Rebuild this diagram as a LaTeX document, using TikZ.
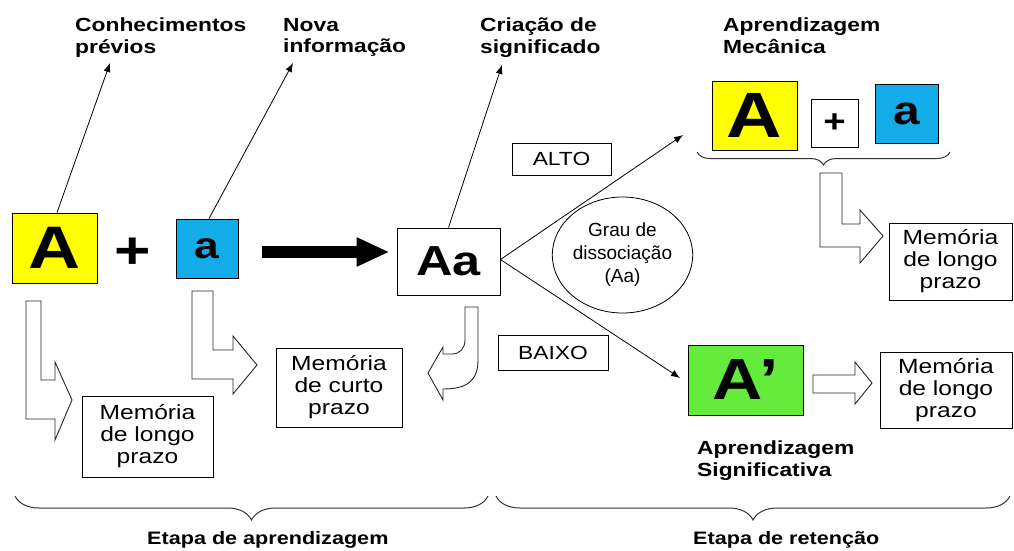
\documentclass[tikz,border=0pt]{standalone}
\usepackage{fontspec}
\setmainfont{Liberation Sans}[FakeStretch=1.2]
\newfontfamily\plainfont{Liberation Sans}
\usetikzlibrary{arrows.meta,decorations.pathreplacing,shapes.geometric}
\definecolor{cyel}{RGB}{255,255,0}
\definecolor{cblue}{RGB}{20,172,232}
\definecolor{cgreen}{RGB}{100,235,60}
\begin{document}
\begin{tikzpicture}[x=1pt,y=-1pt,
  box/.style={draw=black,line width=0.9pt,inner sep=0pt,align=center,
    font=\fontsize{20.5}{22}\selectfont},
  bigl/.style={draw=black,line width=0.9pt,inner sep=0pt},
  lbl/.style={font=\fontsize{19}{21.5}\selectfont\bfseries,align=left,anchor=north west,inner sep=0pt},
  thin/.style={line width=0.8pt,-{Latex[length=9pt,width=7pt]}},
  bigarrow/.style={line width=12pt,-{Triangle[length=33pt,width=27pt]}},
  hollow/.style={draw=black!85,line width=0.9pt,fill=white,line join=miter},
  bracestyle/.style={draw=black!80,line width=1pt,decorate},
]
\useasboundingbox (0,0) rectangle (1014,550);

% left part
\node[bigl,fill=cyel,minimum width=85pt,minimum height=70pt,font=\fontsize{60}{60}\selectfont\bfseries] (A1) at (54.5,248) {A};
\node[inner sep=0pt,font=\fontsize{52}{52}\selectfont\bfseries] (plus1) at (133,253) {+};
\node[bigl,fill=cblue,minimum width=62pt,minimum height=59pt,font=\fontsize{37}{37}\selectfont\bfseries] (a1) at (207,248.5) {a};
\node[bigl,fill=white,minimum width=103pt,minimum height=67pt,font=\fontsize{42}{42}\selectfont\bfseries] (Aa) at (448.5,261.5) {Aa};

\node[box,minimum width=131pt,minimum height=81pt] (ml1) at (147.5,436.5) {Memória\\de longo\\prazo};
\node[box,minimum width=126pt,minimum height=79pt] (mc) at (339,387.5) {Memória\\de curto\\prazo};

% labels top
\node[lbl] (l1) at (75,18) {Conhecimentos\\prévios};
\node[lbl] (l2) at (283,18) {Nova\\informação};
\node[lbl] (l3) at (480,18) {Criação de\\significado};
\node[lbl] (l4) at (723,18) {Aprendizagem\\Mecânica};
\node[lbl] (l5) at (697,441) {Aprendizagem\\Significativa};

\coordinate (t1) at (110,63);
\coordinate (t2) at (293,63);
\coordinate (t3) at (502,65);
\draw[thin] ([xshift=2.5pt]A1.north) -- (t1);
\draw[thin] ([xshift=2pt]a1.north) -- (t2);
\draw[thin] (Aa.north) -- (t3);

\draw[bigarrow] ([xshift=24pt,yshift=-3.5pt]a1.east) -- ([xshift=-7pt,yshift=9.5pt]Aa.west);

% hollow arrows left
\draw[hollow] (26,301) -- (41,301) -- (41,380) -- (55,380) -- (55,362) -- (72,400) -- (55,440) -- (55,419) -- (26,419) -- cycle;
\draw[hollow] (192,291) -- (213,291) -- (213,350) -- (233,350) -- (233,336) -- (257,365) -- (233,394) -- (233,379) -- (192,379) -- cycle;
\draw[hollow] (465,307) -- (478,307) -- (478,360) .. controls (478,380) and (468,389) .. (443,389) -- (443,400) -- (428,373) -- (443,347) -- (443,354) -- (452,354) .. controls (460,354) and (465,348) .. (465,340) -- cycle;

% middle
\node[box,minimum width=99pt,minimum height=32pt,font=\fontsize{19}{22}\selectfont] (alto) at (561.5,159) {ALTO};
\node[box,minimum width=110pt,minimum height=35pt,font=\fontsize{19}{22}\selectfont] (baixo) at (553,352.5) {BAIXO};
\node[draw=black,line width=0.8pt,ellipse,minimum width=140pt,minimum height=116pt,inner sep=0pt,align=center,font=\plainfont\fontsize{19}{23}\selectfont] (grau) at (622.5,255) {Grau de\\dissociação\\(Aa)};

\coordinate (tA) at (683,135);
\coordinate (tB) at (680,378);
\draw[thin] ([yshift=2pt]Aa.east) -- (tA);
\draw[thin] ([yshift=2pt]Aa.east) -- (tB);

% top right
\node[bigl,fill=cyel,minimum width=85pt,minimum height=69pt,font=\fontsize{64}{64}\selectfont\bfseries] (A2) at (754.5,115.5) {A};
\node[bigl,fill=white,minimum width=47pt,minimum height=48pt,font=\fontsize{32}{32}\selectfont\bfseries] (plus2) at (834.5,123) {+};
\node[bigl,fill=cblue,minimum width=63pt,minimum height=59pt,font=\fontsize{40}{40}\selectfont\bfseries] (a2) at (906.5,113.5) {a};
\draw[bracestyle,decoration={brace,mirror,amplitude=13pt}] (697,152) -- (950,152);
\draw[hollow] (820,173) -- (842,173) -- (842,224) -- (860,224) -- (860,210) -- (883,236) -- (860,263) -- (860,247) -- (820,247) -- cycle;
\node[box,minimum width=123pt,minimum height=77pt] (mr1) at (950.5,261.5) {Memória\\de longo\\prazo};

% bottom right
\node[bigl,fill=cgreen,minimum width=115pt,minimum height=70pt,font=\fontsize{58}{58}\selectfont\bfseries] (Ap) at (745.5,380) {A’};
\draw[hollow] (813,375) -- (855,375) -- (855,362) -- (872,383) -- (855,404) -- (855,393) -- (813,393) -- cycle;
\node[box,minimum width=132pt,minimum height=76pt] (mr2) at (946,390) {Memória\\de longo\\prazo};

% bottom braces
\draw[bracestyle,decoration={brace,mirror,amplitude=24pt}] (15,496) -- (488,496);
\draw[bracestyle,decoration={brace,mirror,amplitude=24pt}] (496,496) -- (1010,496);
\node[lbl,font=\fontsize{18}{21}\selectfont\bfseries] (e1) at (147,531) {Etapa de aprendizagem};
\node[lbl,font=\fontsize{18}{21}\selectfont\bfseries] (e2) at (693,531) {Etapa de retenção};
\end{tikzpicture}
\end{document}
